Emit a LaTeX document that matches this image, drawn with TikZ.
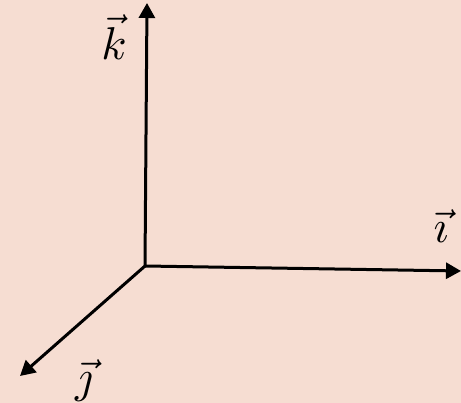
\documentclass[tikz,border=0pt]{standalone}
\usetikzlibrary{arrows.meta}
\definecolor{bgpeach}{RGB}{246,221,210}
\tikzset{
  axis/.style={line width=3pt, -{Triangle[length=15pt,width=16pt]}},
  lbl/.style={inner sep=0pt, scale=4.6}
}
\begin{document}
\begin{tikzpicture}[x=1pt,y=-1pt]
\fill[bgpeach] (0,0) rectangle (461,403);
\useasboundingbox (0,0) rectangle (461,403);
\coordinate (O) at (145,266);
\coordinate (K) at (147,3);
\coordinate (I) at (461,271);
\coordinate (J) at (20,376);
\draw[axis] (O) -- (K);
\draw[axis] (O) -- (I);
\draw[axis] (O) -- (J);
\node[lbl] (lk) at (114,37) {$\vec{k}$};
\node[lbl] (li) at (441,226) {$\vec{\imath}$};
\node[lbl] (lj) at (84,381) {$\vec{\jmath}$};
\end{tikzpicture}
\end{document}
